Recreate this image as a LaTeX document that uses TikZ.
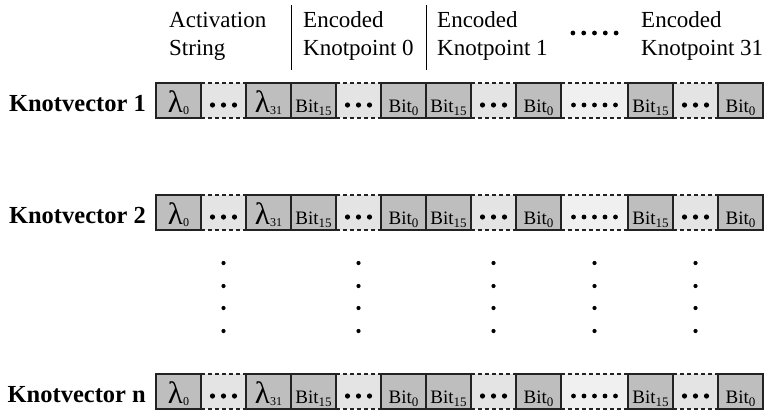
\documentclass[tikz,border=0pt]{standalone}
\usepackage{fontspec}
\setmainfont{Liberation Serif}
\usetikzlibrary{calc}
\definecolor{cellgray}{HTML}{BEBEBE}
\definecolor{dotgray}{HTML}{E4E4E4}
\definecolor{longgray}{HTML}{F0F0F0}
\definecolor{edgegray}{HTML}{222222}
\newcommand\lam[1]{{\fontsize{31}{31}\selectfont λ}\raisebox{-1.5pt}{\fontsize{12}{12}\selectfont #1}}
\newcommand\bitx[1]{{\fontsize{19}{19}\selectfont Bit}\raisebox{-3pt}{\fontsize{13}{13}\selectfont #1}}
\begin{document}
\begin{tikzpicture}[x=1pt,y=-1pt,
  cellbase/.style={anchor=north west, minimum width=45pt, minimum height=35pt,
    inner sep=0pt, outer sep=0pt, text height=26pt, text depth=1.5pt, line width=1.1pt},
  solidcell/.style={cellbase, draw=edgegray, fill=cellgray},
  dotcell/.style={cellbase, fill=dotgray},
  longcell/.style={cellbase, minimum width=67pt, fill=longgray},
  dashline/.style={draw=edgegray, line width=1.1pt, dash pattern=on 4pt off 3pt},
  rowlabel/.style={anchor=base east, font=\fontsize{24.5}{24.5}\selectfont\bfseries, inner sep=0pt},
  head/.style={anchor=base west, font=\fontsize{23}{23}\selectfont, inner sep=0pt},
  sepline/.style={draw=black, line width=1pt},
  bigdot/.style={fill=black},
]
\fill[white] (0,0) rectangle (765,410);
\useasboundingbox (0,0) rectangle (765,410);

\newcommand\kvrow[3]{%
  \begin{scope}[shift={(0,#2)}]
    % dotted cells
    \node[dotcell] (#1c2) at (201,0) {};
    \node[dotcell] (#1c5) at (336,0) {};
    \node[dotcell] (#1c8) at (471,0) {};
    \node[longcell] (#1c10) at (561,0) {};
    \node[dotcell] (#1c12) at (673,0) {};
    \foreach \c in {c2,c5,c8,c10,c12}{
      \draw[dashline] (#1\c.north west) -- (#1\c.north east);
      \draw[dashline] (#1\c.south west) -- (#1\c.south east);
    }
    \foreach \c in {c2,c5,c8,c12}{
      \foreach \k in {-1,0,1}
        \fill[bigdot] ($(#1\c.center)+(\k*11,4.5)$) circle (2.6pt);
    }
    \foreach \k in {-2,-1,0,1,2}
      \fill[bigdot] ($(#1c10.center)+(\k*10.5,4.5)$) circle (2.4pt);
    % solid cells
    \node[solidcell] (#1c1) at (156,0) {\lam{0}};
    \node[solidcell] (#1c3) at (246,0) {\lam{31}};
    \node[solidcell] (#1c4) at (291,0) {\bitx{15}};
    \node[solidcell] (#1c6) at (381,0) {\bitx{0}};
    \node[solidcell] (#1c7) at (426,0) {\bitx{15}};
    \node[solidcell] (#1c9) at (516,0) {\bitx{0}};
    \node[solidcell] (#1c11) at (628,0) {\bitx{15}};
    \node[solidcell] (#1c13) at (718,0) {\bitx{0}};
    \node[rowlabel] (#1lab) at (146,28) {#3};
  \end{scope}}

\kvrow{r1}{83}{Knotvector 1}
\kvrow{r2}{195}{Knotvector 2}
\kvrow{rn}{374}{Knotvector n}

% header
\node[head] (hA1) at (169,27) {Activation};
\node[head] (hA2) at (169,55) {String};
\node[head] (hK01) at (303,27) {Encoded};
\node[head] (hK02) at (303,55) {Knotpoint 0};
\node[head] (hK11) at (437,27) {Encoded};
\node[head] (hK12) at (437,55) {Knotpoint 1};
\node[head] (hK31) at (641,27) {Encoded};
\node[head] (hK32) at (641,55) {Knotpoint 31};
\coordinate (s1t) at (291.5,5);
\coordinate (s1b) at (291.5,70);
\coordinate (s2t) at (426,5);
\coordinate (s2b) at (426,70);
\draw[sepline] (s1t) -- (s1b);
\draw[sepline] (s2t) -- (s2b);
\foreach \k in {-2,-1,0,1,2}
  \fill[bigdot] ($(r1c10.center |- 0,33)+(\k*10.8,0)$) circle (2.4pt);

% vertical ellipses
\foreach \c in {c2,c5,c8,c10,c12}{
  \foreach \yy in {263,286,308,331}
    \fill[bigdot] (r2\c.center |- 0,\yy) circle (2.1pt);
}
\end{tikzpicture}
\end{document}
